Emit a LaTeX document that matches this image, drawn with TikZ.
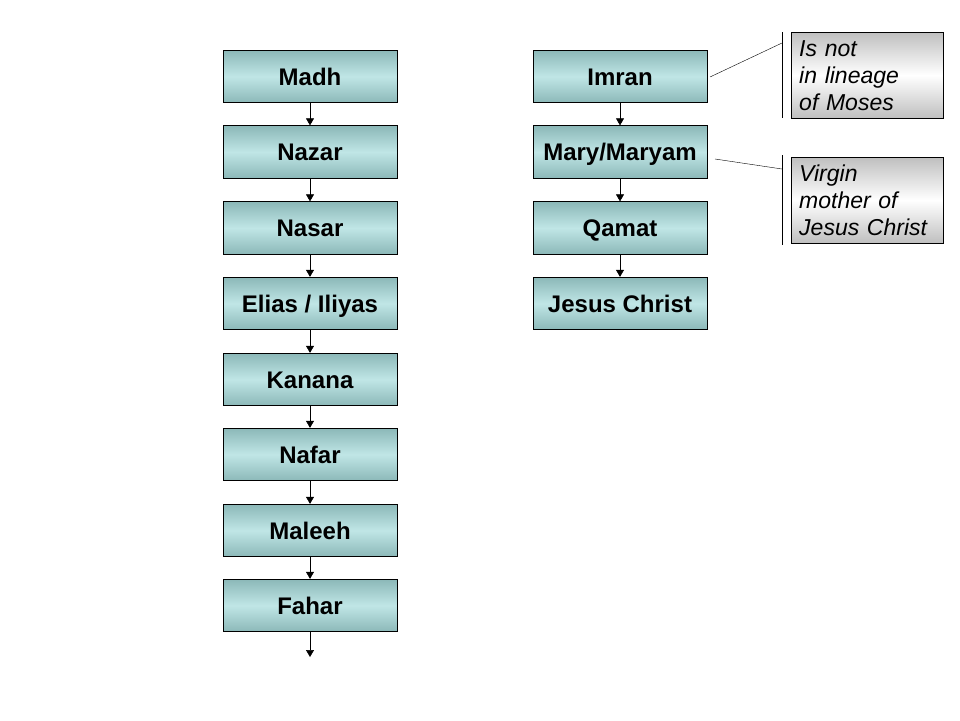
\documentclass[tikz,border=0pt]{standalone}
\usepackage{fontspec}
\setmainfont{Liberation Sans}
\usetikzlibrary{arrows.meta}
\definecolor{boxdark}{RGB}{140,184,184}
\definecolor{boxlight}{RGB}{192,230,230}

\tikzset{
  person/.style={draw, thick, minimum width=174pt, minimum height=52.5pt,
    text height=17pt, text depth=0pt,
    top color=boxdark, bottom color=boxdark, middle color=boxlight,
    font=\bfseries\fontsize{24}{28}\selectfont},
  remark/.style={draw, thin, anchor=north west, minimum width=151pt,
    minimum height=86pt, text width=136pt, align=left, inner xsep=8pt,
    inner ysep=3pt, top color=gray!50, bottom color=gray!50, middle color=white,
    font=\itshape\fontsize{23}{27}\selectfont},
  descent/.style={-{Triangle[length=7pt,width=8pt]}, semithick}
}

\begin{document}
\begin{tikzpicture}[x=1pt, y=-1pt]
  \useasboundingbox (0,0) rectangle (960,720);

  % left line
  \node[person] (madh)   at (310, 76.5) {Madh};
  \node[person] (nazar)  at (310,152)   {Nazar};
  \node[person] (nasar)  at (310,228)   {Nasar};
  \node[person] (elias)  at (310,303.5) {Elias / Iliyas};
  \node[person] (kanana) at (310,379.5) {Kanana};
  \node[person] (nafar)  at (310,454.5) {Nafar};
  \node[person] (maleeh) at (310,530.5) {Maleeh};
  \node[person] (fahar)  at (310,605.5) {Fahar};
  \coordinate (onward) at (310,657);

  \draw[descent] (madh) -- (nazar);
  \draw[descent] (nazar) -- (nasar);
  \draw[descent] (nasar) -- (elias);
  \draw[descent] (elias) -- (kanana);
  \draw[descent] (kanana) -- (nafar);
  \draw[descent] (nafar) -- (maleeh);
  \draw[descent] (maleeh) -- (fahar);
  \draw[descent] (fahar) -- (onward);

  % right line
  \node[person] (imran) at (620, 76.5) {Imran};
  \node[person] (mary)  at (620,152)   {Mary/Maryam};
  \node[person] (qamat) at (620,228)   {Qamat};
  \node[person] (jesus) at (620,303.5) {Jesus Christ};

  \draw[descent] (imran) -- (mary);
  \draw[descent] (mary) -- (qamat);
  \draw[descent] (qamat) -- (jesus);

  % callouts
  \node[remark] (moses) at (791,32) {Is not\\in lineage\\of Moses};
  \node[remark] (virgin) at (791,157) {Virgin\\mother of\\Jesus Christ};

  \coordinate (mosesTop) at (782,32);
  \coordinate (mosesBot) at (782,118);
  \coordinate (mosesTip) at (782,43);
  \coordinate (imranEnd) at (710,77);
  \coordinate (virginTop) at (782,155);
  \coordinate (virginBot) at (782,245);
  \coordinate (virginTip) at (782,169);
  \coordinate (maryEnd) at (715,159);

  \draw (mosesTop) -- (mosesBot);
  \draw (imranEnd) -- (mosesTip);
  \draw (virginTop) -- (virginBot);
  \draw (maryEnd) -- (virginTip);
\end{tikzpicture}
\end{document}
